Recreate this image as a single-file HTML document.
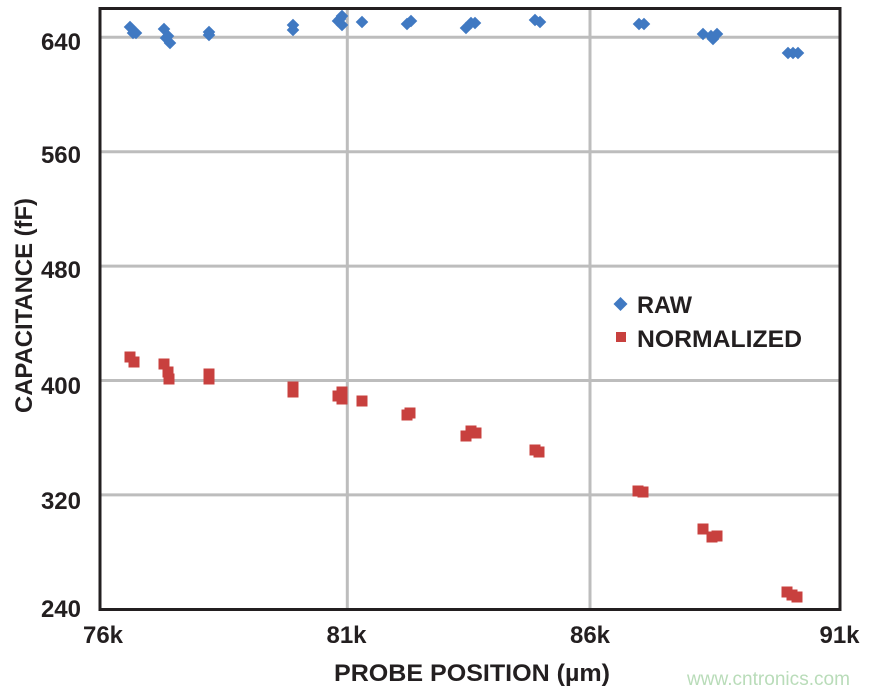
<!DOCTYPE html>
<html><head><meta charset="utf-8"><style>
html,body{margin:0;padding:0;background:#fff;}
svg{display:block;}
text{font-family:"Liberation Sans",Arial,sans-serif;font-weight:bold;fill:#231f20;}
</style></head><body>
<svg width="870" height="694" viewBox="0 0 870 694" xmlns="http://www.w3.org/2000/svg">
<defs>
<path id="d" d="M0,-6.3 L6.3,0 L0,6.3 L-6.3,0 Z" fill="#4079c2"/>
<rect id="s" x="-5.5" y="-5.5" width="11" height="11" fill="#c8403e"/>
</defs>
<!-- gridlines -->
<g stroke="#bdbdbd" stroke-width="3">
<line x1="100" y1="37.3" x2="840" y2="37.3"/>
<line x1="100" y1="151.7" x2="840" y2="151.7"/>
<line x1="100" y1="266.1" x2="840" y2="266.1"/>
<line x1="100" y1="380.5" x2="840" y2="380.5"/>
<line x1="100" y1="494.9" x2="840" y2="494.9"/>
<line x1="347.3" y1="8.5" x2="347.3" y2="609.5"/>
<line x1="590" y1="8.5" x2="590" y2="609.5"/>
</g>
<!-- RAW -->
<g>
<use href="#d" x="130" y="27"/><use href="#d" x="133" y="33"/><use href="#d" x="136" y="33"/>
<use href="#d" x="164" y="29"/><use href="#d" x="166" y="38"/><use href="#d" x="168" y="36"/><use href="#d" x="170" y="43"/>
<use href="#d" x="209" y="32"/><use href="#d" x="209" y="35"/>
<use href="#d" x="293" y="25"/><use href="#d" x="293" y="30"/>
<use href="#d" x="342" y="16"/><use href="#d" x="338" y="21"/><use href="#d" x="342" y="25"/><use href="#d" x="340" y="19"/>
<use href="#d" x="362" y="22"/>
<use href="#d" x="407" y="24"/><use href="#d" x="411" y="21"/>
<use href="#d" x="466" y="28"/><use href="#d" x="471" y="23"/><use href="#d" x="475" y="23"/>
<use href="#d" x="535" y="20"/><use href="#d" x="540" y="22"/>
<use href="#d" x="639" y="24"/><use href="#d" x="644" y="24"/>
<use href="#d" x="703" y="34"/><use href="#d" x="713" y="39"/><use href="#d" x="717" y="34"/><use href="#d" x="711" y="36"/>
<use href="#d" x="788" y="53"/><use href="#d" x="793" y="53"/><use href="#d" x="798" y="53"/>
</g>
<!-- NORMALIZED -->
<g>
<use href="#s" x="130" y="357"/><use href="#s" x="134" y="362"/>
<use href="#s" x="164" y="364"/><use href="#s" x="168" y="372"/><use href="#s" x="169" y="379"/>
<use href="#s" x="209" y="374"/><use href="#s" x="209" y="379"/>
<use href="#s" x="293" y="387"/><use href="#s" x="293" y="392"/>
<use href="#s" x="338" y="396"/><use href="#s" x="342" y="392"/><use href="#s" x="342" y="399"/>
<use href="#s" x="362" y="401"/>
<use href="#s" x="407" y="415"/><use href="#s" x="410" y="413"/>
<use href="#s" x="466" y="436"/><use href="#s" x="471" y="431"/><use href="#s" x="476" y="433"/>
<use href="#s" x="535" y="450"/><use href="#s" x="539" y="452"/>
<use href="#s" x="638" y="491"/><use href="#s" x="643" y="492"/>
<use href="#s" x="703" y="529"/><use href="#s" x="712" y="537"/><use href="#s" x="717" y="536"/>
<use href="#s" x="787" y="592"/><use href="#s" x="792" y="595"/><use href="#s" x="797" y="597"/>
</g>
<!-- frame -->
<rect x="100" y="8.5" width="740" height="601" fill="none" stroke="#231f20" stroke-width="3"/>
<!-- y tick labels -->
<g font-size="24" text-anchor="end">
<text x="81" y="50">640</text>
<text x="81" y="163">560</text>
<text x="81" y="278">480</text>
<text x="81" y="394">400</text>
<text x="81" y="509">320</text>
<text x="81" y="617">240</text>
</g>
<!-- x tick labels -->
<g font-size="24" text-anchor="middle">
<text x="103" y="643">76k</text>
<text x="346.5" y="643">81k</text>
<text x="590" y="643">86k</text>
<text x="839.5" y="643">91k</text>
</g>
<!-- axis titles -->
<text x="334" y="681" font-size="24" textLength="276" lengthAdjust="spacingAndGlyphs">PROBE POSITION (µm)</text>
<text transform="translate(32,413) rotate(-90)" font-size="24" textLength="215" lengthAdjust="spacingAndGlyphs">CAPACITANCE (fF)</text>
<!-- legend -->
<path d="M620.5,297 L627.5,304 L620.5,311 L613.5,304 Z" fill="#4079c2"/>
<rect x="616" y="332" width="10" height="10" fill="#c8403e"/>
<text x="637" y="313" font-size="24" textLength="55" lengthAdjust="spacingAndGlyphs">RAW</text>
<text x="637" y="347" font-size="24" textLength="165" lengthAdjust="spacingAndGlyphs">NORMALIZED</text>
<!-- watermark -->
<text x="687" y="685" font-size="19" style="font-weight:normal;fill:#b9dcb9" textLength="163" lengthAdjust="spacingAndGlyphs">www.cntronics.com</text>
</svg>
</body></html>
